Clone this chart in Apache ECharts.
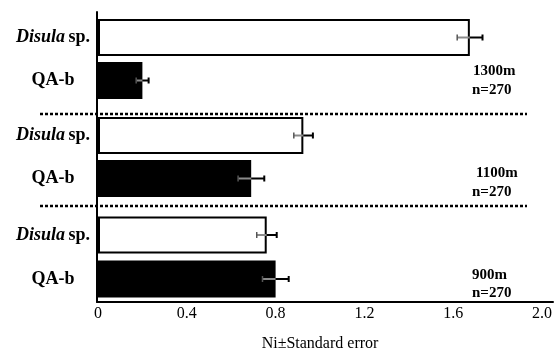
<!DOCTYPE html>
<html>
<head>
<meta charset="utf-8">
<script src="https://cdn.jsdelivr.net/npm/echarts@6/dist/echarts.min.js"></script>
<style>
  html, body { margin: 0; padding: 0; background: #fff; }
  #chart { width: 558px; height: 351px; }
</style>
</head>
<body>
<div id="chart"></div>
<script>
// altitude groups, top to bottom
var sites = ['1300m', '1100m', '900m'];
var sampleN = ['n=270', 'n=270', 'n=270'];
var species = ['Disula sp.', 'QA-b'];
// Ni means and standard errors
var disulaMean = [1.675, 0.925, 0.76];
var disulaSE = [0.057, 0.043, 0.045];
var qabMean = [0.20, 0.69, 0.80];
var qabSE = [0.028, 0.059, 0.059];
var xTicks = { min: 0, max: 2.0, interval: 0.4 };
var xName = 'Ni±Standard error';

var serif = 'Liberation Serif, Times New Roman, serif';
var chart = echarts.init(document.getElementById('chart'));

// each altitude group gets its own grid
var grids = [
  { left: 98, right: 16, top: 16, height: 86 },
  { left: 98, right: 16, top: 114, height: 86 },
  { left: 98, right: 16, top: 213, height: 88 }
];

function renderErr(params, api) {
  var m = api.value(0), idx = api.value(1), se = api.value(2);
  var pL = api.coord([m - se, idx]);
  var pM = api.coord([m, idx]);
  var pR = api.coord([m + se, idx]);
  var h = 3;
  return {
    type: 'group',
    children: [
      { type: 'line', shape: { x1: pL[0], y1: pL[1], x2: pM[0], y2: pM[1] }, style: { stroke: '#8a8a8a', lineWidth: 2 } },
      { type: 'line', shape: { x1: pM[0], y1: pM[1], x2: pR[0], y2: pR[1] }, style: { stroke: '#000', lineWidth: 2 } },
      { type: 'line', shape: { x1: pL[0], y1: pL[1] - h, x2: pL[0], y2: pL[1] + h }, style: { stroke: '#555', lineWidth: 1.5 } },
      { type: 'line', shape: { x1: pR[0], y1: pR[1] - h, x2: pR[0], y2: pR[1] + h }, style: { stroke: '#000', lineWidth: 2 } }
    ]
  };
}

var gridList = [], xAxes = [], yAxes = [], series = [], graphics = [];

for (var i = 0; i < sites.length; i++) {
  gridList.push(Object.assign({ outerBoundsMode: 'none' }, grids[i]));
  var last = i === sites.length - 1;
  xAxes.push({
    gridIndex: i, type: 'value', min: xTicks.min, max: xTicks.max, interval: xTicks.interval,
    axisLine: { show: false }, axisTick: { show: false }, splitLine: { show: false },
    axisLabel: {
      show: last, margin: 5, color: '#000', fontFamily: serif, fontSize: 16,
      formatter: function (v) { return v === 0 ? '0' : v.toFixed(1); }
    },
    name: last ? xName : '', nameLocation: 'middle', nameGap: 35,
    nameTextStyle: { color: '#000', fontFamily: serif, fontSize: 16 }
  });
  yAxes.push({
    gridIndex: i, type: 'category', data: species, inverse: true,
    axisLine: { show: false }, axisTick: { show: false },
    axisLabel: {
      align: 'center', margin: 45,
      formatter: function (v) {
        var parts = v.split(' ');
        if (parts.length > 1) return '{i|' + parts[0] + '} {b|' + parts.slice(1).join(' ') + '}';
        return '{b|' + v + '}';
      },
      rich: {
        i: { fontFamily: serif, fontSize: 18, fontStyle: 'italic', fontWeight: 'bold', color: '#000' },
        b: { fontFamily: serif, fontSize: 18, fontWeight: 'bold', color: '#000' }
      }
    }
  });
  series.push({
    type: 'bar', xAxisIndex: i, yAxisIndex: i, barWidth: 37,
    data: [
      { value: disulaMean[i], itemStyle: { color: '#fff', borderColor: '#000', borderWidth: 2 } },
      { value: qabMean[i], itemStyle: { color: '#000' } }
    ],
    silent: true
  });
  series.push({
    type: 'custom', xAxisIndex: i, yAxisIndex: i, z: 5,
    renderItem: renderErr, encode: { x: 0, y: 1 },
    data: [[disulaMean[i], 0, disulaSE[i]], [qabMean[i], 1, qabSE[i]]],
    silent: true
  });
}

// overlay grid just for the long axis lines
gridList.push({ left: 97, right: 5, top: 12, bottom: 49, outerBoundsMode: 'none' });
xAxes.push({
  gridIndex: 3, type: 'value', min: 0, max: 1,
  axisLine: { show: true, lineStyle: { color: '#000', width: 2 } },
  axisTick: { show: false }, axisLabel: { show: false }, splitLine: { show: false }
});
yAxes.push({
  gridIndex: 3, type: 'value', min: 0, max: 1,
  axisLine: { show: true, onZero: false, lineStyle: { color: '#000', width: 2 } },
  axisTick: { show: false }, axisLabel: { show: false }, splitLine: { show: false }
});

// dotted group separators
[114, 206].forEach(function (y) {
  graphics.push({
    type: 'line', shape: { x1: 40, y1: y, x2: 527, y2: y },
    style: { stroke: '#000', lineWidth: 2.5, lineDash: [3, 2] }, z: 10
  });
});

// site annotations
var siteY = [[71, 90], [173, 192], [275, 293]];
var siteX = [473, 476, 472];
for (var k = 0; k < sites.length; k++) {
  graphics.push({
    type: 'text', x: siteX[k], y: siteY[k][0],
    style: { text: sites[k], font: 'bold 15px ' + serif, fill: '#000', verticalAlign: 'middle' }
  });
  graphics.push({
    type: 'text', x: 472, y: siteY[k][1],
    style: { text: sampleN[k], font: 'bold 15px ' + serif, fill: '#000', verticalAlign: 'middle' }
  });
}

chart.setOption({
  animation: false,
  backgroundColor: '#fff',
  grid: gridList,
  xAxis: xAxes,
  yAxis: yAxes,
  series: series,
  graphic: graphics
});
</script>
</body>
</html>
